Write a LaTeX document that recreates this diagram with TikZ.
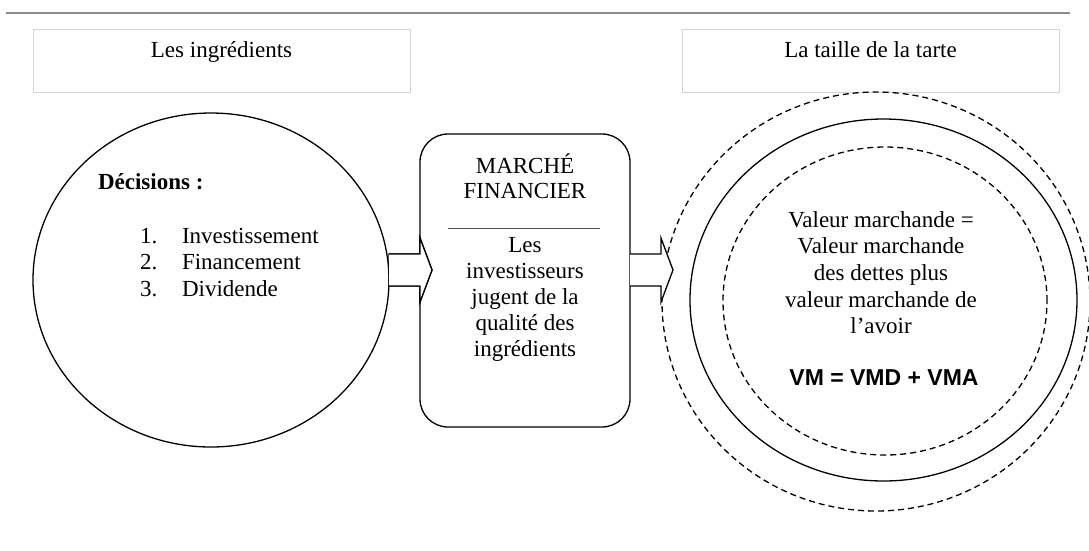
\documentclass[tikz,border=0pt]{standalone}
\usepackage{fontspec}
\setmainfont{Liberation Serif}
\newfontfamily\vmfont{Liberation Sans}
\usetikzlibrary{shapes.geometric}
\begin{document}
\begin{tikzpicture}[x=1pt,y=-1pt,
  txt/.style={font=\fontsize{23}{26.5}\selectfont, inner sep=0pt, outer sep=0pt, anchor=base},
  txtl/.style={txt, anchor=base west},
  hdrbox/.style={draw=black!17, line width=0.8pt, fill=white},
  solidring/.style={draw, ellipse, line width=1.3pt, inner sep=0pt, outer sep=0pt},
  dashring/.style={solidring, dash pattern=on 6pt off 4pt},
  blockarrow/.style={draw, fill=white, line width=1.3pt, line join=miter}]
\useasboundingbox (0,0) rectangle (1089,550);

% top rule
\coordinate (ruleL) at (6,13);
\coordinate (ruleR) at (1070,13);
\draw[line width=2.2pt, draw=black!45] (ruleL) -- (ruleR);

% header boxes
\node[hdrbox, minimum width=377pt, minimum height=63pt, inner sep=0pt] (hl) at (221.5,60.5) {};
\node[txt] (hlt) at (221.5,57) {Les ingrédients};
\node[hdrbox, minimum width=377pt, minimum height=63pt, inner sep=0pt] (hr) at (870.5,60.5) {};
\node[txt] (hrt) at (870.5,57) {La taille de la tarte};

% left arrow
\draw[blockarrow] (389,254) -- (420,254) -- (420,238) -- (432,270) -- (420,302) -- (420,286) -- (389,286) -- cycle;

% left ellipse
\node[solidring, minimum width=356pt, minimum height=334pt] (ing) at (211,280) {};
\node[txt, anchor=base west, font=\fontsize{23}{26.5}\selectfont\bfseries] (dec) at (98,189) {Décisions :};
\node[txtl] (n1) at (140,243) {1.};
\node[txtl] (i1) at (182,243) {Investissement};
\node[txtl] (n2) at (140,269.5) {2.};
\node[txtl] (i2) at (182,269.5) {Financement};
\node[txtl] (n3) at (140,296) {3.};
\node[txtl] (i3) at (182,296) {Dividende};

% middle rounded box
\draw[line width=1.3pt, rounded corners=28pt] (420,134) rectangle (630,427);
\node[txt] (m1) at (525,173) {MARCHÉ};
\node[txt] (m2) at (525,198) {FINANCIER};
\coordinate (mrl) at (448,228);
\coordinate (mrr) at (600,228);
\draw[line width=0.9pt, draw=black!70] (mrl) -- (mrr);
\node[txt] (m3) at (525,252) {Les};
\node[txt] (m4) at (525,278) {investisseurs};
\node[txt] (m5) at (525,304) {jugent de la};
\node[txt] (m6) at (525,330) {qualité des};
\node[txt] (m7) at (525,356) {ingrédients};

% left arrow head over box edge
\draw[blockarrow] (389,254) -- (420,254) -- (420,238) -- (432,270) -- (420,302) -- (420,286) -- (389,286);

% right rings
\node[dashring, minimum width=428pt, minimum height=419pt] (outer) at (876,301.5) {};
\node[solidring, minimum width=387pt, minimum height=362pt] (mid) at (883.5,300) {};
\node[dashring, minimum width=324pt, minimum height=308pt] (inner) at (885,301) {};

% right arrow
\draw[blockarrow] (630,254) -- (661,254) -- (661,238) -- (673,270) -- (661,302) -- (661,286) -- (630,286);

% right text
\node[txt] (v1) at (881,227) {Valeur marchande =};
\node[txt] (v2) at (881,253.7) {Valeur marchande};
\node[txt] (v3) at (881,280.3) {des dettes plus};
\node[txt] (v4) at (881,307) {valeur marchande de};
\node[txt] (v5) at (881,333.7) {l’avoir};
\node[txt, font=\fontsize{23}{26.5}\selectfont\vmfont\bfseries] (vm) at (884,385) {VM = VMD + VMA};
\end{tikzpicture}
\end{document}
